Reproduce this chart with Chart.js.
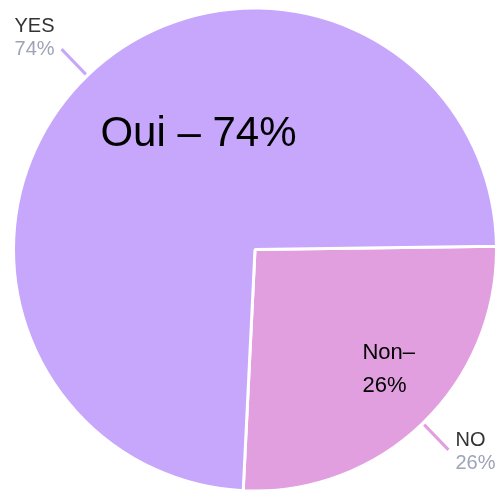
<!DOCTYPE html>
<html>
<head>
<meta charset="utf-8">
<script src="https://cdn.jsdelivr.net/npm/chart.js@4"></script>
<style>
  html, body { margin: 0; padding: 0; background: #ffffff; overflow: hidden; }
  #wrap { width: 498px; height: 490px; position: relative; overflow: hidden; }
  #c { position: absolute; left: 0; top: -5px; }
</style>
</head>
<body>
<div id="wrap"><canvas id="c" width="498" height="500"></canvas></div>
<script>
// Data
const categories = ['NO', 'YES'];
const values = [26, 74];
const percentLabels = ['26%', '74%'];
const innerLabels = [['Non–', '26%'], ['Oui – 74%']];
const sliceColors = ['#E29FDF', '#C6A7FC'];

const outerLabelPlugin = {
  id: 'outerLabels',
  afterDatasetsDraw(chart) {
    const ctx = chart.ctx;
    const meta = chart.getDatasetMeta(0);
    meta.data.forEach((arc, i) => {
      const p = arc.getProps(['x', 'y', 'startAngle', 'endAngle', 'outerRadius'], true);
      const mid = (p.startAngle + p.endAngle) / 2;
      const cos = Math.cos(mid), sin = Math.sin(mid);
      const r0 = p.outerRadius + 2, r1 = p.outerRadius + 37;
      const x0 = p.x + cos * r0, y0 = p.y + sin * r0;
      const x1 = p.x + cos * r1, y1 = p.y + sin * r1;
      ctx.save();
      ctx.strokeStyle = sliceColors[i];
      ctx.lineWidth = 3;
      ctx.beginPath();
      ctx.moveTo(x0, y0);
      ctx.lineTo(x1, y1);
      ctx.stroke();
      const right = cos >= 0;
      ctx.textAlign = right ? 'left' : 'right';
      ctx.textBaseline = 'alphabetic';
      const tx = right ? x1 + 7 : x1 - 7;
      const yTop = right ? y1 - 4 : y1 - 17;
      ctx.font = '20px "Liberation Sans", Arial, sans-serif';
      ctx.fillStyle = '#333333';
      ctx.fillText(categories[i], tx, yTop);
      ctx.fillStyle = '#9DA4B8';
      ctx.fillText(percentLabels[i], tx, yTop + 23);
      ctx.restore();

      // inner labels, placed relative to the pie centre and radius
      ctx.save();
      ctx.fillStyle = '#000000';
      ctx.textAlign = 'left';
      ctx.textBaseline = 'alphabetic';
      const R = p.outerRadius;
      if (i === 1) {
        ctx.font = '42px "Liberation Sans", Arial, sans-serif';
        ctx.fillText(innerLabels[1][0], p.x - 0.64 * R, p.y - 0.43 * R);
      } else {
        ctx.font = '22px "Liberation Sans", Arial, sans-serif';
        ctx.fillText(innerLabels[0][0], p.x + 0.445 * R, p.y + 0.455 * R);
        ctx.fillText(innerLabels[0][1], p.x + 0.445 * R, p.y + 0.455 * R + 33);
      }
      ctx.restore();
    });
  }
};

new Chart(document.getElementById('c'), {
  type: 'pie',
  data: {
    labels: categories,
    datasets: [{
      data: values,
      backgroundColor: sliceColors,
      borderColor: '#ffffff',
      borderWidth: 3
    }]
  },
  options: {
    responsive: false,
    animation: false,
    rotation: 89.2,
    layout: { padding: { left: 12, right: 0, top: 11.5, bottom: 2.5 } },
    plugins: {
      legend: { display: false },
      tooltip: { enabled: false }
    }
  },
  plugins: [outerLabelPlugin]
});
</script>
</body>
</html>
